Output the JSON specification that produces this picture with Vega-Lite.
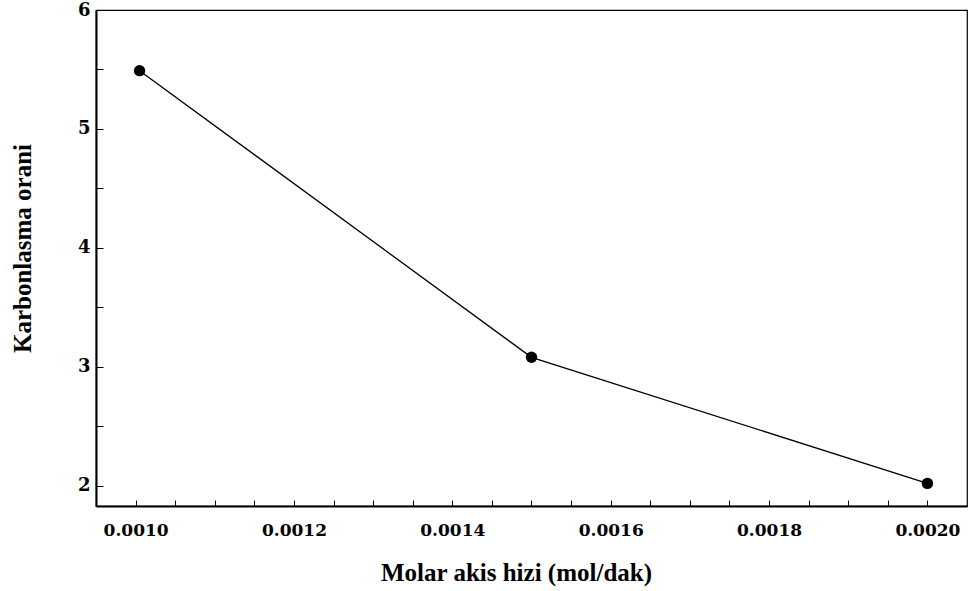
{
  "$schema": "https://vega.github.io/schema/vega-lite/v6.json",
  "width": 871,
  "height": 496,
  "autosize": {"type": "none"},
  "padding": {"left": 96, "top": 10, "right": 2, "bottom": 85},
  "background": "white",
  "config": {
    "view": {"stroke": "black", "strokeWidth": 1.2},
    "font": "Liberation Serif"
  },
  "data": {
    "values": [
      {"x": 0.001005, "y": 5.49},
      {"x": 0.0015, "y": 3.08},
      {"x": 0.002, "y": 2.02}
    ]
  },
  "encoding": {
    "x": {
      "field": "x",
      "type": "quantitative",
      "scale": {"domain": [0.00095, 0.00205], "nice": false, "zero": false},
      "axis": {
        "title": "Molar akis hizi (mol/dak)",
        "titleFont": "Liberation Serif",
        "titleFontSize": 25,
        "titleFontWeight": "bold",
        "titleColor": "black",
        "titlePadding": 22,
        "titleX": 420,
        "values": [0.001, 0.00105, 0.0011, 0.00115, 0.0012, 0.00125, 0.0013, 0.00135, 0.0014, 0.00145, 0.0015, 0.00155, 0.0016, 0.00165, 0.0017, 0.00175, 0.0018, 0.00185, 0.0019, 0.00195, 0.002],
        "labelExpr": "abs(round(datum.value*10000) % 2) == 0 && abs(datum.value*10000 - round(datum.value*10000)) < 0.01 ? format(datum.value, '.4f') : ''",
        "labelFont": "DejaVu Serif",
        "labelFontSize": 17,
        "labelFontWeight": "bold",
        "labelColor": "black",
        "labelPadding": 22,
        "labelFlush": false,
        "labelOverlap": false,
        "tickSize": -6,
        "tickColor": "black",
        "domainColor": "black",
        "domainWidth": 2,
        "grid": false
      }
    },
    "y": {
      "field": "y",
      "type": "quantitative",
      "scale": {"domain": [1.83, 6], "nice": false, "zero": false},
      "axis": {
        "title": "Karbonlasma orani",
        "titleFont": "Liberation Serif",
        "titleFontSize": 25,
        "titleFontWeight": "bold",
        "titleColor": "black",
        "titlePadding": 42,
        "titleY": 238,
        "values": [2, 2.5, 3, 3.5, 4, 4.5, 5, 5.5, 6],
        "labelExpr": "datum.value % 1 == 0 ? format(datum.value, 'd') : ''",
        "labelFont": "DejaVu Serif",
        "labelFontSize": 18,
        "labelFontWeight": "bold",
        "labelColor": "black",
        "labelPadding": 13,
        "labelFlush": false,
        "labelOverlap": false,
        "tickSize": -7,
        "tickColor": "black",
        "domainColor": "black",
        "domainWidth": 2,
        "grid": false
      }
    }
  },
  "layer": [
    {"mark": {"type": "line", "color": "black", "strokeWidth": 1.3}},
    {"mark": {"type": "point", "filled": true, "color": "black", "opacity": 1, "size": 130}}
  ]
}
